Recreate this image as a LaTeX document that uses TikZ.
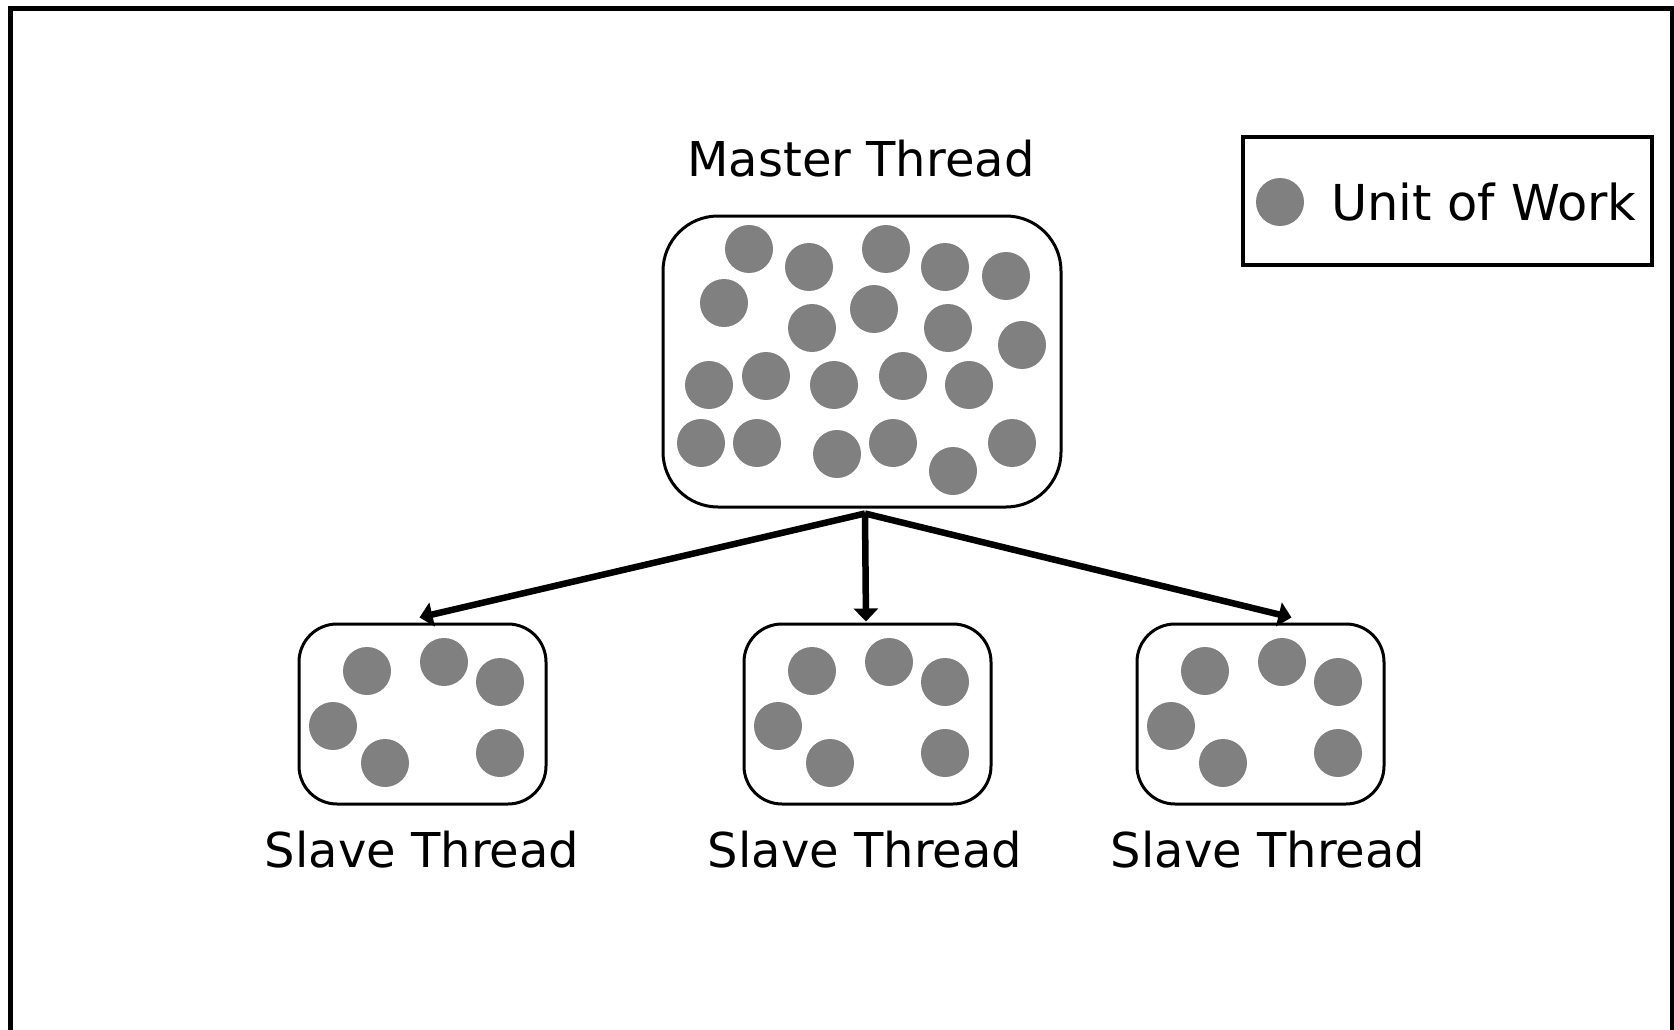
\documentclass[tikz,border=0pt]{standalone}
\usepackage{fontspec}
\setmainfont{DejaVu Sans}
\usetikzlibrary{arrows.meta}
\definecolor{unitgray}{RGB}{128,128,128}
\tikzset{
  unit/.style={circle, fill=unitgray, minimum size=48pt, inner sep=0pt},
  masterbox/.style={draw, line width=3pt, rounded corners=55pt, minimum width=398pt, minimum height=291pt, inner sep=0pt},
  slavebox/.style={draw, line width=3pt, rounded corners=38pt, minimum width=247pt, minimum height=180pt, inner sep=0pt},
  lbl/.style={font=\fontsize{48pt}{57pt}\selectfont, inner sep=0pt, anchor=base},
  arr/.style={line width=6.5pt, -{Triangle[length=13pt,width=24pt]}},
  frame/.style={line width=5pt}
}
\begin{document}
\begin{tikzpicture}[x=1pt,y=-1pt]
\useasboundingbox (0,0) rectangle (1674,1030);
% outer frame
\draw[frame] (10,1035) -- (10,9) -- (1672,9) -- (1672,1035);
% master
\node[masterbox] (master) at (862,361.5) {};
\node[lbl] (mastertxt) at (861,177) {Master Thread};
\foreach \x/\y [count=\i] in {749/249, 809/267, 886/249, 945/267, 1006/276, 724/303, 812/328, 874/309, 948/328, 1022/345, 709/385, 766/376, 834/385, 903/376, 969/385, 701/443, 757/443, 837/454, 893/443, 953/471, 1012/443}
  \node[unit] (m\i) at (\x,\y) {};
% slaves
\foreach \cx/\tx [count=\s] in {422.5/422, 867.5/865, 1260.5/1268} {
  \node[slavebox] (s\s) at (\cx,714) {};
  \node[lbl] (s\s txt) at (\tx,867) {Slave Thread};
  \foreach \dx/\dy [count=\j] in {-55.5/-43, 21.5/-52, 77.5/-32, -89.5/12, -37.5/49, 77.5/39}
    \node[unit] (s\s u\j) at (\cx+\dx,714+\dy) {};
}
% arrows
\coordinate (split) at ([shift={(3pt,-5pt)}]master.south);
\draw[arr] (split) -- ([shift={(-3pt,5pt)}]s1.north);
\draw[arr] (split) -- ([shift={(-1.5pt,1pt)}]s2.north);
\draw[arr] (split) -- ([shift={(31pt,5pt)}]s3.north);
% legend
\node[draw, line width=4pt, minimum width=409pt, minimum height=128pt, inner sep=0pt] (legend) at (1447.5,201) {};
\node[unit] (legunit) at (1280,202) {};
\node[lbl, anchor=base west, font=\fontsize{49.5pt}{58pt}\selectfont] (legtxt) at (1331,220) {Unit of Work};
\end{tikzpicture}
\end{document}
